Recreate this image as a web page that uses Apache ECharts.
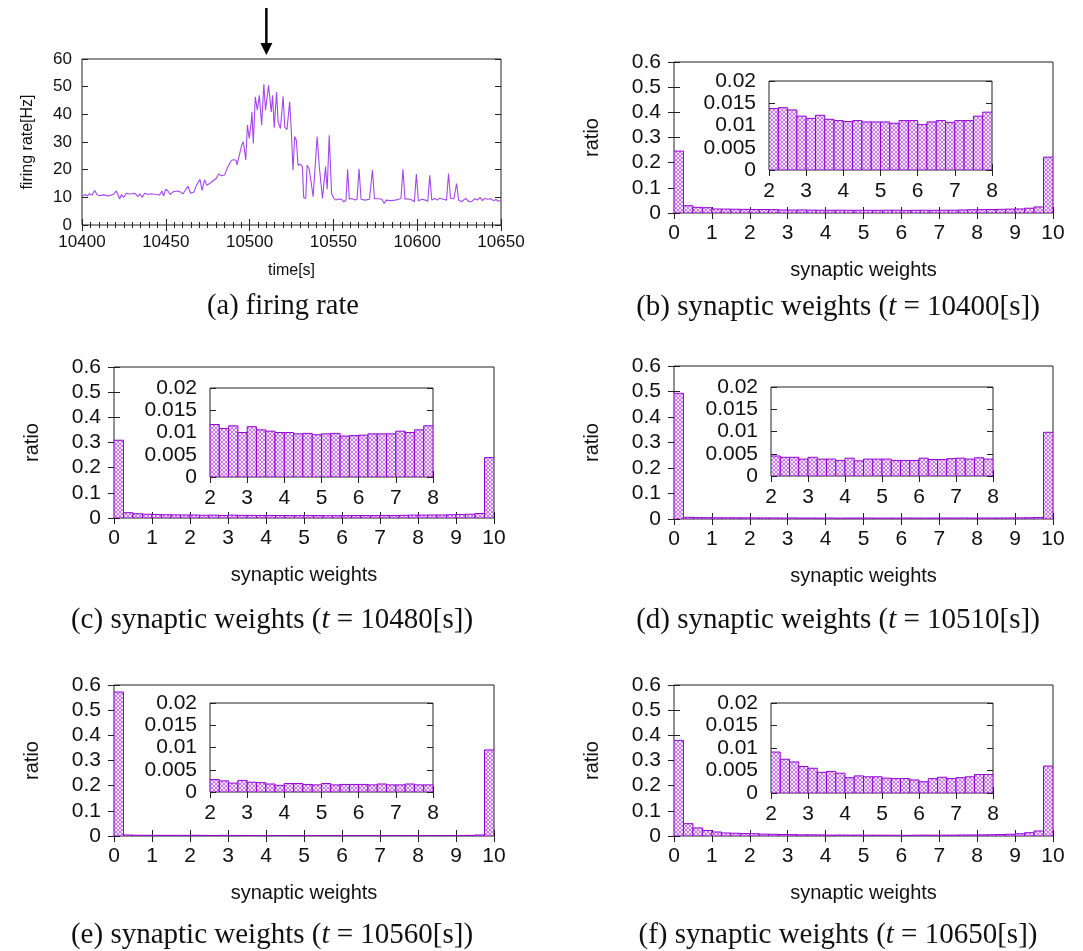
<!DOCTYPE html>
<html><head><meta charset="utf-8">
<script src="https://cdn.jsdelivr.net/npm/echarts@6/dist/echarts.min.js"></script>
<style>html,body{margin:0;padding:0;background:#fff}#c{width:1083px;height:951px}</style>
</head><body><div id="c"></div>
<script>
// ---------------- DATA ----------------
// (a) firing rate
const rateTime = [10400.0,10401.0,10402.0,10403.2,10404.6,10406.0,10407.6,10409.0,10410.5,10412.5,10414.0,10415.5,10417.5,10419.0,10420.5,10422.5,10423.5,10424.9,10426.5,10428.0,10429.4,10431.4,10433.4,10434.6,10436.0,10437.4,10439.4,10441.4,10443.0,10444.4,10446.3,10447.7,10448.7,10449.9,10451.3,10452.7,10454.3,10456.0,10457.3,10459.0,10460.3,10461.3,10463.2,10464.8,10466.8,10468.2,10469.2,10470.4,10471.6,10473.2,10474.4,10476.2,10478.2,10480.2,10481.6,10483.1,10485.1,10486.7,10488.3,10489.3,10490.5,10492.0,10492.5,10494.0,10495.3,10496.3,10497.7,10498.7,10499.8,10501.0,10501.4,10502.2,10503.4,10504.6,10505.8,10507.2,10508.5,10509.5,10511.3,10512.9,10513.7,10514.7,10516.1,10517.0,10518.4,10520.0,10521.0,10522.3,10523.9,10524.9,10525.9,10526.9,10527.9,10528.9,10530.3,10531.5,10532.3,10533.5,10534.3,10535.5,10536.7,10537.9,10540.3,10541.5,10542.3,10543.5,10545.3,10546.3,10547.5,10548.9,10550.3,10551.5,10552.9,10553.5,10554.9,10556.3,10557.5,10558.5,10559.5,10560.9,10562.9,10564.1,10565.3,10566.5,10568.9,10571.5,10573.3,10574.5,10576.9,10578.9,10580.3,10581.5,10583.9,10586.9,10588.9,10590.3,10591.5,10592.7,10594.3,10596.9,10598.3,10599.5,10600.7,10602.9,10604.9,10606.3,10607.5,10608.7,10610.3,10611.9,10613.5,10615.5,10616.5,10617.5,10618.7,10619.9,10621.9,10623.5,10624.7,10626.5,10628.9,10630.9,10632.9,10634.3,10635.9,10637.5,10638.9,10640.3,10641.9,10643.9,10645.5,10647.0,10648.5,10650.0];
const rateValue = [10.5,10.3,11.0,10.5,11.3,10.8,12.5,10.9,10.6,10.9,10.8,10.5,10.8,11.2,12.3,9.4,11.0,10.0,11.5,11.2,11.3,11.5,10.3,11.3,10.0,11.5,11.0,11.3,11.1,11.0,10.9,12.3,10.5,12.9,12.3,11.0,12.0,12.2,12.3,11.8,11.3,11.5,14.0,11.5,11.9,14.3,13.8,16.5,12.5,16.3,14.4,15.0,16.0,16.9,18.5,17.8,18.1,20.6,22.5,23.4,23.6,23.4,21.7,25.5,28.9,30.1,23.5,36.1,31.3,37.3,40.9,29.5,46.3,41.5,46.9,36.1,50.9,41.5,50.5,40.9,46.9,35.2,48.1,37.3,34.9,46.5,35.4,34.5,44.5,33.7,19.8,32.0,30.6,21.6,22.0,21.0,9.9,9.6,21.6,20.4,15.6,10.2,32.0,21.6,22.0,9.6,21.0,12.9,32.4,11.4,9.6,9.0,9.4,8.8,9.3,8.4,9.0,20.1,9.3,9.6,9.0,9.3,20.3,9.3,9.0,9.3,19.9,9.5,9.5,9.3,7.8,9.0,8.8,9.0,9.3,9.6,20.1,9.3,9.5,9.0,8.4,18.4,8.8,9.3,9.0,8.6,18.0,9.0,9.6,9.0,9.7,9.3,10.0,9.0,18.6,9.6,9.5,15.0,9.0,8.4,9.6,8.4,8.6,9.5,9.0,10.0,8.8,9.6,9.3,9.5,8.8,9.2,8.6,8.8];
const arrowTime = 10510;
const rateTicksX = [10400, 10650, 50];
const rateTicksY = [0, 60, 10];

// histograms: bin width 0.25 over [0,10]; low = bins 0..2, mid = bins 2..8 (inset), high = bins 8..10
const binWidth = 0.25;
const histStart = 0;
const insetStart = 2;
const b_low  = [0.246,0.029,0.0225,0.021,0.016,0.0155,0.015,0.0145];
const b_mid  = [0.0138,0.0140,0.0135,0.0121,0.0116,0.0123,0.0114,0.0111,0.0109,0.0111,0.0108,0.0108,0.0108,0.0105,0.0111,0.0111,0.0102,0.0108,0.0111,0.0107,0.0111,0.0111,0.0121,0.0130];
const b_high = [0.0135,0.014,0.0145,0.0155,0.016,0.019,0.024,0.222];

const c_low  = [0.309,0.021,0.017,0.015,0.014,0.013,0.0125,0.012];
const c_mid  = [0.0118,0.0109,0.0115,0.0100,0.0113,0.0106,0.0103,0.0100,0.0100,0.0097,0.0098,0.0095,0.0097,0.0098,0.0092,0.0093,0.0094,0.0097,0.0097,0.0097,0.0103,0.0100,0.0106,0.0115];
const c_high = [0.0115,0.012,0.012,0.013,0.014,0.015,0.018,0.24];

const d_low  = [0.493,0.0065,0.0055,0.005,0.0048,0.0047,0.0046,0.0045];
const d_mid  = [0.0045,0.0042,0.0042,0.0038,0.0042,0.0038,0.0038,0.0035,0.0040,0.0034,0.0038,0.0038,0.0038,0.0035,0.0035,0.0035,0.0040,0.0037,0.0037,0.0039,0.0040,0.0038,0.0041,0.0038];
const d_high = [0.004,0.004,0.004,0.0042,0.0045,0.005,0.006,0.34];

const e_low  = [0.572,0.004,0.003,0.0028,0.0027,0.0026,0.0026,0.0026];
const e_mid  = [0.0028,0.0025,0.0020,0.0026,0.0022,0.0021,0.0018,0.0015,0.0019,0.0019,0.0017,0.0016,0.0019,0.0016,0.0017,0.0017,0.0017,0.0016,0.0018,0.0016,0.0016,0.0018,0.0016,0.0016];
const e_high = [0.0016,0.0016,0.0017,0.0018,0.002,0.0025,0.004,0.342];

const f_low  = [0.38,0.049,0.032,0.022,0.016,0.012,0.011,0.0098];
const f_mid  = [0.0091,0.0075,0.0069,0.0059,0.0055,0.0046,0.0048,0.0044,0.0034,0.0038,0.0036,0.0036,0.0033,0.0032,0.0032,0.0029,0.0025,0.0032,0.0035,0.0032,0.0034,0.0036,0.0041,0.0041];
const f_high = [0.0045,0.005,0.006,0.007,0.009,0.013,0.02,0.278];

const mainTicksX = [0, 10, 1];
const mainTicksY = [0, 0.6, 0.1];
const insetTicksX = [2, 8, 1];
const insetTicksY = [0, 0.02, 0.005];

const captionTimes = {b:'10400', c:'10480', d:'10510', e:'10560', f:'10650'};

// ---------------- LAYOUT / STYLE ----------------
const SANS = '"Liberation Sans", Arial, Helvetica, sans-serif';
const SERIF = '"Liberation Serif", "Times New Roman", serif';
const INK = '#111';
const FRAME = '#222';
const PURPLE = '#9400d3';
const CAP_SIZE = 29;

const panels = [
  {key:'b', low:b_low, mid:b_mid, high:b_high, main:{left:674,top:62,width:379,height:151}, inset:{left:769,top:81,width:223,height:89}, cap:[838,307]},
  {key:'c', low:c_low, mid:c_mid, high:c_high, main:{left:114,top:367,width:380,height:151}, inset:{left:210,top:388,width:223,height:89}, cap:[272,620]},
  {key:'d', low:d_low, mid:d_mid, high:d_high, main:{left:674,top:366,width:379,height:153}, inset:{left:771,top:387,width:222,height:89}, cap:[838,620]},
  {key:'e', low:e_low, mid:e_mid, high:e_high, main:{left:114,top:685,width:380,height:151}, inset:{left:210,top:703,width:223,height:89}, cap:[272,935]},
  {key:'f', low:f_low, mid:f_mid, high:f_high, main:{left:674,top:685,width:379,height:151}, inset:{left:771,top:703,width:222,height:90}, cap:[838,935]}
];

function makePattern(){
  const c = document.createElement('canvas'); c.width = 4; c.height = 4;
  const g = c.getContext('2d');
  g.fillStyle = '#f5e6fc'; g.fillRect(0,0,4,4);
  g.fillStyle = '#c47ce9';
  for (let i=0;i<4;i++){ g.fillRect(i,i,1,1); g.fillRect(3-i,i,1,1); }
  return c;
}
const pattern = {image: makePattern(), repeat: 'repeat'};

const grids = [], xAxes = [], yAxes = [], series = [];

function tick(len){ return {show:true, inside:true, length:len, lineStyle:{color:FRAME, width:1}}; }
const plainNum = v => String(v);

function addPlot(box, xt, yt, opts){
  const gi = grids.length;
  grids.push({left:box.left, top:box.top, width:box.width, height:box.height, show:true,
    borderColor:FRAME, borderWidth:1, backgroundColor:'#fff', containLabel:false});
  const fs = opts.fontSize;
  const xi = xAxes.length, yi = yAxes.length;
  const minor = opts.minorX ? {show:true, splitNumber:opts.minorX, length:3, lineStyle:{color:FRAME}} : {show:false};
  const xBase = {type:'value', gridIndex:gi, min:xt[0], max:xt[1], interval:xt[2],
    axisLine:{show:false}, splitLine:{show:false}, axisTick:tick(opts.tickLen), minorTick:minor};
  const yBase = {type:'value', gridIndex:gi, min:yt[0], max:yt[1], interval:yt[2],
    axisLine:{show:false}, splitLine:{show:false}, axisTick:tick(opts.tickLen)};
  xAxes.push(Object.assign({}, xBase, {position:'bottom',
    axisLabel:{show:true, color:INK, fontFamily:SANS, fontSize:fs, margin:opts.xMargin, formatter:plainNum},
    name:opts.xName||'', nameLocation:'middle', nameGap:opts.xNameGap||0,
    nameTextStyle:{color:INK, fontFamily:SANS, fontSize:opts.nameSize}}));
  xAxes.push(Object.assign({}, xBase, {position:'top', axisLabel:{show:false}}));
  yAxes.push(Object.assign({}, yBase, {position:'left',
    axisLabel:{show:true, color:INK, fontFamily:SANS, fontSize:fs, margin:opts.yMargin},
    name:opts.yName||'', nameLocation:'middle', nameGap:opts.yNameGap||0, nameRotate:90,
    nameTextStyle:{color:INK, fontFamily:SANS, fontSize:opts.nameSize}}));
  yAxes.push(Object.assign({}, yBase, {position:'right', axisLabel:{show:false}}));
  return {gi, xi, yi};
}

function renderBin(params, api){
  const x0 = api.value(0), x1 = api.value(1), v = api.value(2);
  const p0 = api.coord([x0, v]);
  const p1 = api.coord([x1, 0]);
  return {type:'rect',
    shape:{x:p0[0], y:p0[1], width:p1[0]-p0[0], height:p1[1]-p0[1]},
    style:{fill:pattern, stroke:PURPLE, lineWidth:1}};
}

function binData(values, start){
  return values.map((v,i)=>[start + i*binWidth, start + (i+1)*binWidth, v]);
}

// (a) firing rate
const a = addPlot({left:82,top:59,width:419,height:166}, rateTicksX, rateTicksY,
  {fontSize:17, tickLen:6, minorX:10, xMargin:9, yMargin:10, xName:'time[s]', xNameGap:38,
   yName:'firing rate[Hz]', yNameGap:46, nameSize:16});
series.push({type:'line', xAxisIndex:a.xi, yAxisIndex:a.yi, showSymbol:false, smooth:false,
  data: rateTime.map((t,i)=>[t, rateValue[i]]),
  lineStyle:{color:'#a448ee', width:1.1}, itemStyle:{color:'#a448ee'}, animation:false, z:3});

// histograms
panels.forEach(p=>{
  const m = addPlot(p.main, mainTicksX, mainTicksY,
    {fontSize:21, tickLen:6, xMargin:10, yMargin:13, xName:'synaptic weights', xNameGap:47,
     yName:'ratio', yNameGap:72, nameSize:20});
  series.push({type:'custom', xAxisIndex:m.xi, yAxisIndex:m.yi, renderItem:renderBin,
    encode:{x:[0,1], y:2}, data: binData(p.low.concat(p.mid, p.high), histStart), clip:true, animation:false});
  const ins = addPlot(p.inset, insetTicksX, insetTicksY,
    {fontSize:21, tickLen:6, xMargin:11, yMargin:13, nameSize:20});
  series.push({type:'custom', xAxisIndex:ins.xi, yAxisIndex:ins.yi, renderItem:renderBin,
    encode:{x:[0,1], y:2}, data: binData(p.mid, insetStart), clip:true, animation:false, z:5});
});

const chart = echarts.init(document.getElementById('c'));
chart.setOption({animation:false, backgroundColor:'#fff', grid:grids, xAxis:xAxes, yAxis:yAxes, series:series});

// captions and arrow
const capRich = {
  n:{fontFamily:SERIF, fontSize:CAP_SIZE, fill:INK, color:INK},
  i:{fontFamily:SERIF, fontSize:CAP_SIZE, fontStyle:'italic', fill:INK, color:INK}
};
const graphics = [];
graphics.push({type:'text', x:283, y:307, style:{text:'(a) firing rate', font:(CAP_SIZE-0.5)+'px '+SERIF, fill:INK, align:'center', verticalAlign:'middle'}});
panels.forEach(p=>{
  graphics.push({type:'text', x:p.cap[0], y:p.cap[1], style:{
    text:'{n|('+p.key+') synaptic weights (}{i|t}{n| = '+captionTimes[p.key]+'[s])}',
    rich:capRich, align:'center', verticalAlign:'middle'}});
});
const ax = chart.convertToPixel({xAxisIndex:a.xi}, arrowTime);
const topY = chart.convertToPixel({yAxisIndex:a.yi}, rateTicksY[1]);
graphics.push({type:'line', shape:{x1:ax, y1:8, x2:ax, y2:topY-14}, style:{stroke:'#000', lineWidth:2.5}});
graphics.push({type:'polygon', shape:{points:[[ax-6,topY-16],[ax+6,topY-16],[ax,topY-4]]}, style:{fill:'#000'}});
chart.setOption({graphic:graphics});
</script></body></html>
